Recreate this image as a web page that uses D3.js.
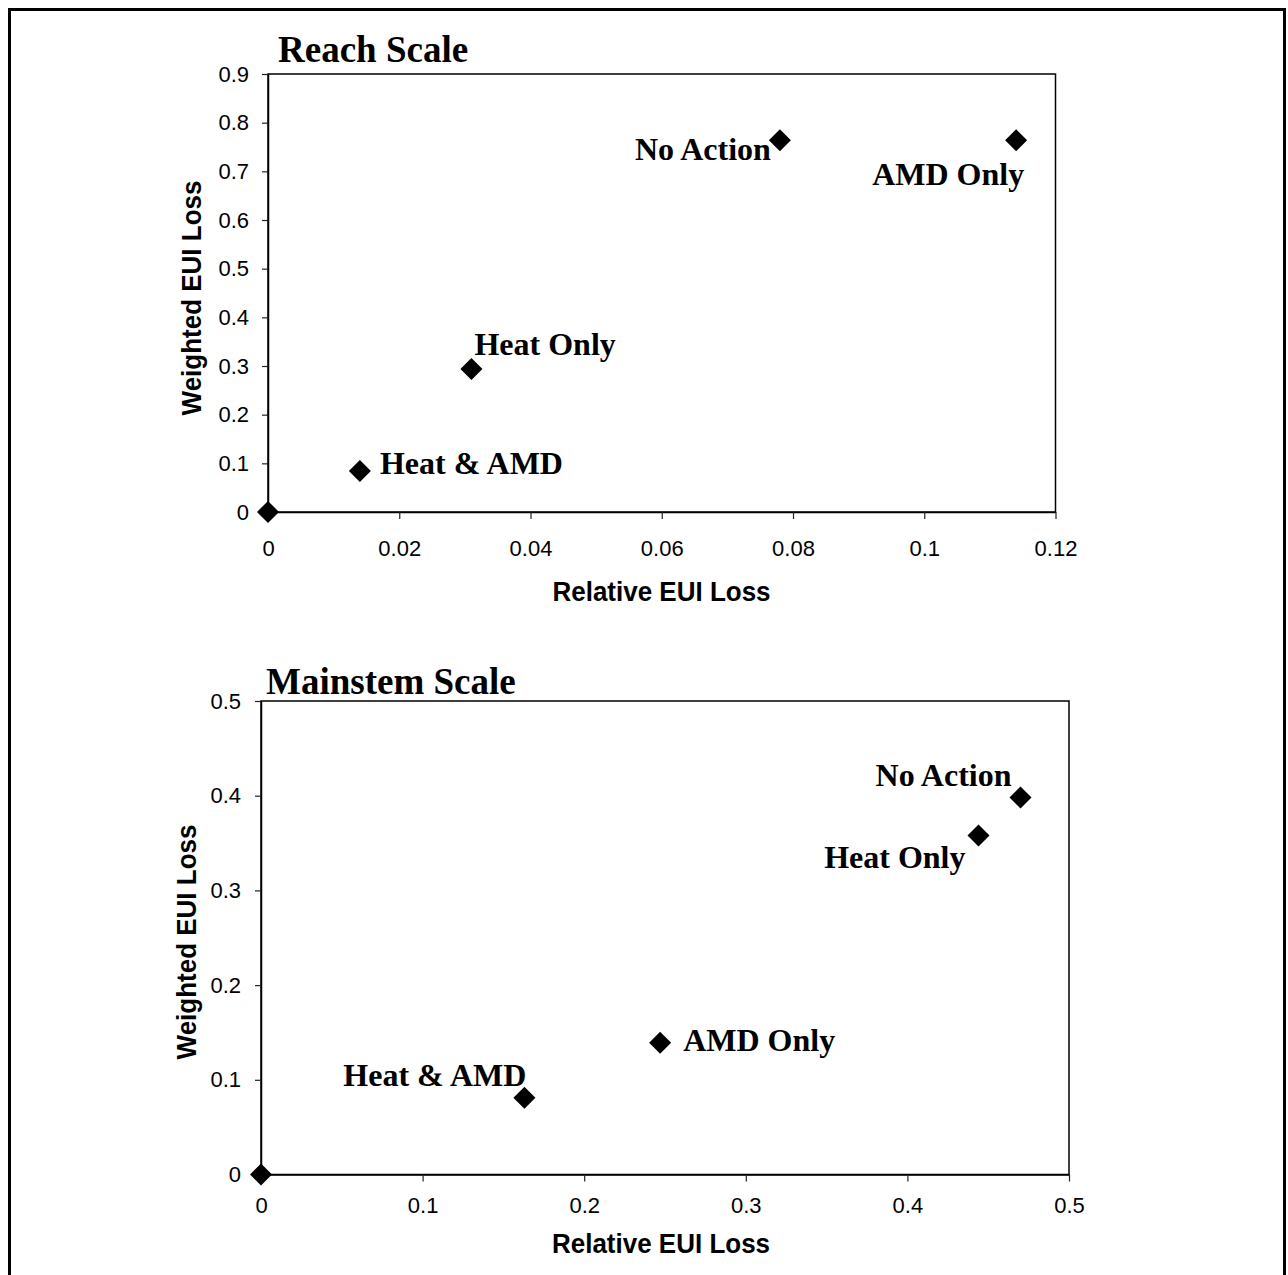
<!DOCTYPE html>
<html><head><meta charset="utf-8">
<script src="https://cdn.jsdelivr.net/npm/d3@7"></script>
<style>body{margin:0;background:#fff}svg{display:block}</style>
</head><body>
<svg id="c" width="1288" height="1275"></svg>
<script>
// Reach scale data
const reachNames = ["Origin", "Heat & AMD", "Heat Only", "No Action", "AMD Only"];
const reachX = [0, 0.014, 0.031, 0.078, 0.114];
const reachY = [0, 0.084, 0.294, 0.764, 0.764];
const reachXTicks = [0, 0.02, 0.04, 0.06, 0.08, 0.1, 0.12];
const reachYTicks = [0, 0.1, 0.2, 0.3, 0.4, 0.5, 0.6, 0.7, 0.8, 0.9];
// Mainstem scale data
const mainNames = ["Origin", "Heat & AMD", "AMD Only", "Heat Only", "No Action"];
const mainX = [0, 0.163, 0.247, 0.444, 0.470];
const mainY = [0, 0.081, 0.139, 0.358, 0.398];
const mainXTicks = [0, 0.1, 0.2, 0.3, 0.4, 0.5];
const mainYTicks = [0, 0.1, 0.2, 0.3, 0.4, 0.5];

const svg = d3.select("#c");
svg.append("rect").attr("x", 9.5).attr("y", 9.5).attr("width", 1275).attr("height", 1300)
  .attr("fill", "none").attr("stroke", "#000").attr("stroke-width", 3);

const SANS = "Liberation Sans, Arial, sans-serif";
const SERIF = "Liberation Serif, Times New Roman, serif";

function chart(cfg) {
  const x = d3.scaleLinear().domain(cfg.xDom).range([cfg.left, cfg.right]);
  const y = d3.scaleLinear().domain(cfg.yDom).range([cfg.bottom, cfg.top]);
  const g = svg.append("g");
  g.append("rect").attr("x", cfg.left).attr("y", cfg.top)
    .attr("width", cfg.right - cfg.left).attr("height", cfg.bottom - cfg.top)
    .attr("fill", "none").attr("stroke", "#000").attr("stroke-width", 1.5);
  const fmt = d => d === 0 ? "0" : String(+d.toFixed(2));
  const xa = g.append("g").attr("transform", `translate(0,${cfg.bottom})`)
    .call(d3.axisBottom(x).tickValues(cfg.xTicks).tickFormat(fmt).tickSize(7).tickSizeOuter(0).tickPadding(cfg.xPad));
  const ya = g.append("g").attr("transform", `translate(${cfg.left},0)`)
    .call(d3.axisLeft(y).tickValues(cfg.yTicks).tickFormat(fmt).tickSize(6).tickSizeOuter(0).tickPadding(cfg.yPad));
  [xa, ya].forEach(a => {
    a.select(".domain").attr("stroke", "#000").attr("stroke-width", 1.5);
    a.selectAll(".tick line").attr("stroke", "#222").attr("stroke-width", 1.2);
    a.selectAll("text").attr("font-family", SANS).attr("font-size", 22).attr("fill", "#000");
  });
  g.append("text").attr("x", cfg.titleX).attr("y", cfg.titleY)
    .attr("font-family", SERIF).attr("font-weight", "bold")
    .attr("font-size", 37).text(cfg.title);
  g.append("text").attr("transform", `translate(${cfg.xTitleX},${cfg.xTitleY}) scale(1,1.08)`)
    .attr("text-anchor", "middle").attr("font-family", SANS)
    .attr("font-weight", "bold").attr("font-size", 26).text("Relative EUI Loss");
  g.append("text").attr("transform", `translate(${cfg.yTitleX},${cfg.yTitleY}) rotate(-90) scale(1,1.08)`)
    .attr("text-anchor", "middle").attr("font-family", SANS)
    .attr("font-weight", "bold").attr("font-size", 26).text("Weighted EUI Loss");
  const data = cfg.names.map((n, i) => ({ n, x: cfg.xs[i], y: cfg.ys[i], l: cfg.lbl[i] }));
  const r = 11;
  g.selectAll("path.pt").data(data).join("path").attr("class", "pt")
    .attr("d", d => `M${x(d.x)},${y(d.y) - r}L${x(d.x) + r},${y(d.y)}L${x(d.x)},${y(d.y) + r}L${x(d.x) - r},${y(d.y)}Z`)
    .attr("fill", "#000");
  g.selectAll("text.lbl").data(data.filter(d => d.l)).join("text").attr("class", "lbl")
    .attr("x", d => x(d.x) + d.l[0])
    .attr("y", d => y(d.y) + d.l[1])
    .attr("text-anchor", d => d.l[2])
    .attr("font-family", SERIF).attr("font-weight", "bold")
    .attr("font-size", 32).text(d => d.n);
}

chart({
  names: reachNames, xs: reachX, ys: reachY,
  xDom: [0, 0.12], yDom: [0, 0.9], xTicks: reachXTicks, yTicks: reachYTicks,
  left: 268, right: 1055.5, top: 74, bottom: 512,
  xPad: 21, yPad: 13,
  title: "Reach Scale", titleX: 278, titleY: 62,
  xTitleX: 661.5, xTitleY: 601, yTitleX: 201, yTitleY: 298,
  lbl: [null, [20, 3, "start"], [3, -14, "start"], [-9, 20, "end"], [8, 45, "end"]]
});
chart({
  names: mainNames, xs: mainX, ys: mainY,
  xDom: [0, 0.5], yDom: [0, 0.5], xTicks: mainXTicks, yTicks: mainYTicks,
  left: 261, right: 1069, top: 701, bottom: 1174.5,
  xPad: 16, yPad: 14,
  title: "Mainstem Scale", titleX: 266, titleY: 694,
  xTitleX: 661, xTitleY: 1253, yTitleX: 196, yTitleY: 942,
  lbl: [null, [2, -12, "end"], [23, 8, "start"], [-13, 33, "end"], [-9, -12, "end"]]
});
</script>
</body></html>
